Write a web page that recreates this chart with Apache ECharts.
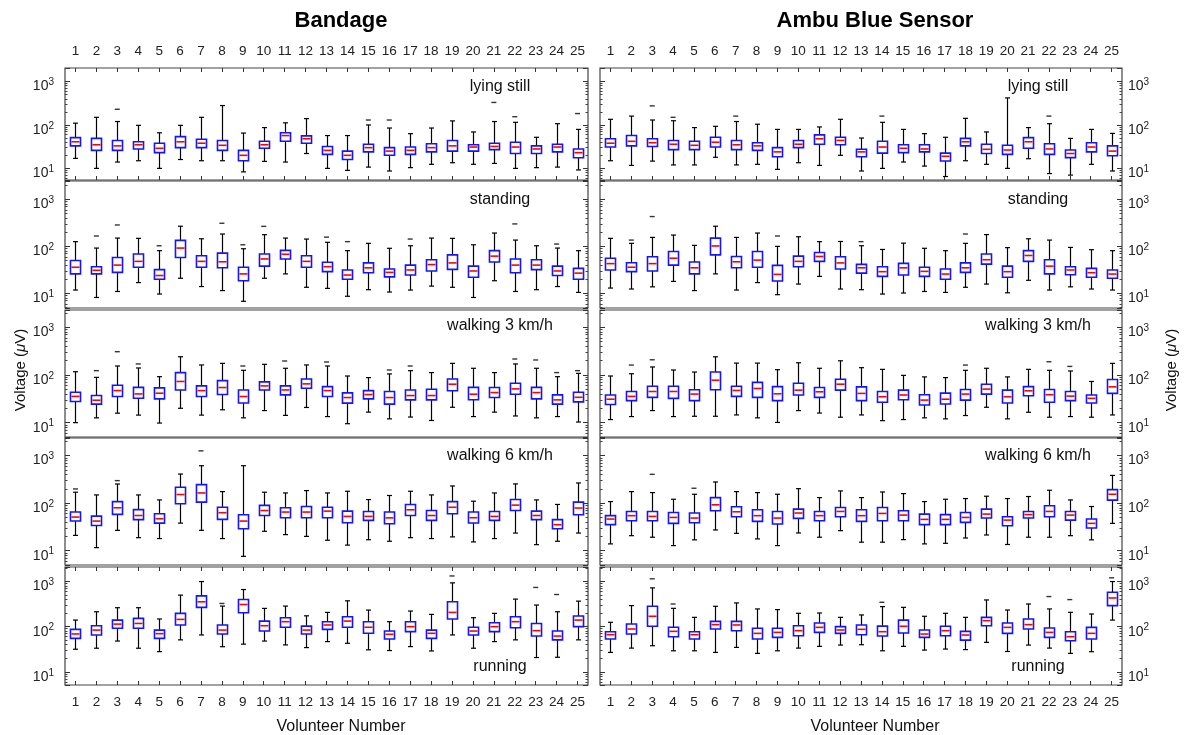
<!DOCTYPE html>
<html lang="en">
<head>
	<meta charset="UTF-8">
	<title>Bandage vs Ambu Blue Sensor</title>
	<script src="https://cdn.jsdelivr.net/npm/echarts@6/dist/echarts.min.js"></script>
	<style>
		html, body { margin: 0; padding: 0; background: #fff; }
	</style>
</head>
<body>
	<div id="chart" style="width: 1184px;height: 735px;"></div>
	<script>
		var volunteers = ['1','2','3','4','5','6','7','8','9','10','11','12','13','14','15','16','17','18','19','20','21','22','23','24','25'];
		var activities = ['lying still', 'standing', 'walking 3 km/h', 'walking 6 km/h', 'running'];
		var sensors = ['Bandage', 'Ambu Blue Sensor'];

		// one row per volunteer: [lower whisker, q1, median, q3, upper whisker] in µV
		var bandageLying = [[17,33,41,51,110],[10,26,35,49,150],[14,26,33,44,120],[15,28,35,41,98],[10,23,29,38,66],
			[16,30,41,54,98],[15,30,38,47,150],[15,26,34,44,280],[8.3,15,20,26,65],[14.5,29,35,42,87],
			[14,42,57,66,112],[22,38,48,56,140],[10,21,26,32,57],[9,16,20,25,57],[10.7,24,30,36,100],
			[8.7,20,25,30,85],[10.4,21,26,31,63],[12.4,24,30,37,85],[13.5,25,33,44,124],[12.4,25,31,35,69],
			[13,27,32,38,120],[10,22,31,40,115],[10.4,22,28,33,52],[10.7,24,31,36,107],[9.2,17.6,23,28,79]];
		var ambuLying = [[15,31,38,48,135],[11.7,33,42,57,160],[14.7,32,39,48,130],[12,27,36,44,125],[12,27,34,42,87],
			[18,31,40,52,93],[12,27,35,44,120],[12.4,26,33,39,104],[9.5,18.5,24,30,79],[13.5,30,36,44,79],
			[11.7,36,48,59,90],[20,35,44,52,135],[8.7,18.5,24,27.5,50],[10,22.5,31,42,115],[14,23,29,35,79],
			[11.3,24,28,35,63],[6.5,14.8,19,22.5,52],[15,33,41,49,142],[12.4,22,27.5,36,69],[10,21,26.5,34,420],
			[16.7,29,41,51,87],[7.6,21,28,37,107],[7,17.7,22,26.5,49],[12.4,24,31,39,79],[8.7,19.6,25,33,64]];
		var bandageStanding = [[11.8,26,36,50,126],[8.2,26,31,37,92],[11,28,40,58,150],[17,36,48,69,148],[9.7,20,24,32,81],
			[21,58,92,134,268],[14,36,48,63,145],[11.5,35,47,72,183],[6.8,18.6,26,36,89],[21,38,54,69,177],
			[26,54,68,82,150],[13.5,36,48,63,143],[12.8,29,37,46,122],[8.7,20,24.6,31.5,81],[12,27.5,35,44.5,116],
			[10.7,22.5,28,33,91],[11.8,24.6,31.5,40,103],[14.3,30,41,52,150],[13.5,32.5,44.5,66,148],[8.2,22,30,38,108],
			[18.6,46.5,62,81,192],[11,27.5,40,54,136],[12,32,40,52,103],[14,24,30,38,92],[10.5,20,27,34,81]];
		var ambuStanding = [[13,31.5,43,56,148],[12.4,29,36,45,116],[13.8,30,43,60,155],[18,40,56,78,174],[11.5,26,35,46.5,105],
			[26,66,102,150,268],[11.8,35,47,61,155],[17,36,51,78,192],[9.4,18.3,25.4,39.5,100],[15.8,37,48,62,160],
			[23,48,61,74,126],[12.4,33,44.5,60,127],[12,27,35,41.5,103],[9.7,23,29,37,86],[10.2,24.6,35,43.5,117],
			[11,23,29.4,36,91],[10.5,20,25.8,33,81],[13.5,28,35,44.5,116],[15.8,42,52,69,178],[10.3,22,29,38,94],
			[19,48,64,81,145],[11.8,26,38,52,136],[13.8,25,31.5,37,95],[12.4,22,27.6,34,85],[11.8,21,25.8,31.5,81]];
		var bandageWalk3 = [[10,27.7,35.5,43.5,117],[12.6,24.4,29.5,37,89],[15.8,35.3,47,61,154],[14.4,32.5,40,55,140],[9.8,31.5,41.4,53.5,92],
			[20,48.5,73,112,241],[14.4,35.3,47,59,162],[18.6,38.8,54.5,76,175],[12.6,25.9,35.3,48.5,125],[17.9,48.5,59,71.5,167],
			[14.2,38.2,48.5,59,138],[20.8,52.6,65,82,162],[13.4,35.3,47,57,154],[9.5,25.6,33.6,42,95],[16.6,31.5,38.8,47,88],
			[12,24.4,33.6,45,105],[13.1,30,37,48.5,123],[11.1,30,37,50,112],[21,46.5,64,82,175],[13.4,30.1,39.5,55,138],
			[16.6,33.6,42.7,54.5,112],[13.8,39.5,51,67,170],[12.6,31.5,42.7,55,138],[13.4,24.4,30,38.2,92],[10.3,27.3,34,43.5,108]];
		var ambuWalk3 = [[11.6,24,31,38,95],[13.4,29,35.5,45,106],[17.9,33.8,45,58,147],[13.4,32.3,45,58,127],[13.6,29,39.7,49,115],
			[13.6,49,77.5,115,240],[14.5,35.5,47.3,58,177],[12.6,33.8,52,70,177],[10.1,29,40.3,57,129],[17.9,38,48,67,180],
			[15.9,33.8,44.3,54.6,138],[13,48,64,81.3,198],[14.5,29,41,56.3,142],[11,26.7,34.9,45,131],[11.6,30.3,38,48,98],
			[12.6,23.5,29.7,38.5,91],[12,24.6,31,41.6,88],[14.1,29.7,39.7,49.7,125],[21,39.7,50.5,64,138],[12,25.8,34.9,48,91],
			[16.5,36.6,46.5,57,131],[13,26.7,38.5,49.7,125],[13.4,29,36,45,121],[13,25.8,32.3,38,73],[14.5,41,56.3,80,175]];
		var bandageWalk6 = [[21,42,51,65,170],[11.6,34,42,53.5,149],[26.8,58,80,108,253],[18.8,45,55,73,149],[18,38,47,60,117],
			[38,97,152,216,410],[26.8,105,164,245,614],[18,45.5,63,82,175],[7.6,29,42,57,614],[25.6,55,70,90,170],
			[21.8,49.4,65,80,164],[20,49.4,65,85,184],[16.6,49.4,68,82,164],[13.1,38.8,52.6,68,178],[17,43.5,52.6,67,119],
			[15.8,37,49,65,145],[18.8,55,72.5,94,178],[18,43.5,55,70,149],[19.5,60,82,108,230],[15.3,38.2,49.4,65,110],
			[18,43.5,52.6,67,164],[23.5,70,91,119,254],[13.4,45,55,68,117],[15.8,29,35.2,45,94],[23.5,57,79,105,266]];
		var ambuWalk6 = [[13.9,35.3,46.3,54.6,108],[20.7,42.7,54.6,67,175],[19.2,42.7,52.6,67,167],[12.8,37.6,50.1,63.6,121],[16.9,38.8,48.6,62,154],
			[27.3,69,92.3,131,279],[23.2,51.8,65.9,84,175],[17.7,41.4,54.6,72.6,167],[12.8,36.4,48.6,67,154],[23.6,47.8,62,75,202],
			[19.2,42.7,54.6,67,131],[26.4,51.8,67,81,181],[15.1,41.4,54.6,72.6,131],[15.1,42.7,60.8,81,172],[17.1,42.7,56.1,69,159],
			[13.9,35.3,45.6,58.9,108],[14.3,35.3,45.6,57.5,121],[18.5,39.5,50.1,63.6,125],[21.4,48.6,58.9,75,140],[13.5,33.6,44,51.8,125],
			[19.2,48.6,57.5,67,138],[19.2,51.8,67,88,187],[20.7,44,56.1,67,117],[16.9,30,37.6,46.3,85],[37.6,116,154,193,384]];
		var bandageRun = [[31.6,55,69,87,140],[33.3,65.5,84,105,214],[48,92,114,140,263],[33.3,92,118,153,263],[28,55,70,84,148],
			[51,109,145,197,500],[65.5,267,356,482,1000],[36,69,84,109,286],[41,204,310,400,665],[48,80,105,133,254],
			[39.4,97,129,158,286],[34.4,69,84,103,174],[46.7,87,109,129,207],[42.8,97,133,166,374],[30.7,71.3,97,129,233],
			[29.6,53.4,67.7,80,129],[36.2,77.5,100,129,222],[29,55,71.3,84,187],[65.5,148,207,356,935],[33.3,65.5,80,97,158],
			[46.7,77.5,100,122,197],[51,95,129,166,408],[20.7,62,81.6,118,301],[21,51,62,80,214],[51,100,140,172,368]];
		var ambuRun = [[26.9,53.2,66.4,77.4,125],[33.5,68.7,88.7,115,293],[37.8,102,170,283,723],[29.2,60,78.8,97,255],[29.2,53.2,66.4,77.4,161],
			[26.9,88.7,111,131,283],[34.7,81.5,109,131,336],[25.6,53.2,71.1,92,247],[29.2,57.9,74.8,92,239],[33.5,63.1,81.5,105,198],
			[36.6,74.8,96.6,121,201],[39.1,71.1,84.3,100,161],[39.8,66.4,87.3,109,182],[29.2,62.1,77.4,103,278],[36.6,72.3,102,140,268],
			[30.3,57.9,68.7,84.3,170],[31.9,63.1,81.5,102,198],[31,50.4,65.3,78.8,161],[44.9,105,136,161,391],[28.2,71.1,96.6,121,234],
			[39.1,88.7,111,148,318],[33.5,57.9,74.8,93.4,247],[25.6,48.8,60,77.4,208],[27.9,53.2,71.1,96.6,191],[140,293,433,578,1000]];

		// outliers: [volunteer, value]
		var bandageLyingOut = [[3,230],[15,130],[16,130],[21,330],[22,155],[25,183]];
		var ambuLyingOut = [[3,275],[4,150],[7,160],[14,160],[22,160]];
		var bandageStandingOut = [[2,166],[3,285],[5,103],[8,310],[9,108],[10,266],[13,157],[14,126],[17,143],[22,300],[24,112]];
		var ambuStandingOut = [[2,136],[3,430],[9,166],[13,126],[18,183]];
		var bandageWalk3Out = [[2,123],[3,307],[4,170],[9,154],[11,196],[13,187],[16,127],[17,154],[22,216],[23,206],[24,112],[25,123]];
		var ambuWalk3Out = [[2,161],[3,208],[18,161],[22,189],[23,151]];
		var bandageWalk6Out = [[1,199],[3,298],[7,1260]];
		var ambuWalk6Out = [[3,404],[5,206]];
		var bandageRunOut = [[8,327],[19,1330],[23,740],[24,516]];
		var ambuRunOut = [[3,1150],[4,318],[14,347],[22,465],[23,398],[25,1210]];

		var panels = [
			[bandageLying, bandageStanding, bandageWalk3, bandageWalk6, bandageRun],
			[ambuLying, ambuStanding, ambuWalk3, ambuWalk6, ambuRun]
		];
		var panelOut = [
			[bandageLyingOut, bandageStandingOut, bandageWalk3Out, bandageWalk6Out, bandageRunOut],
			[ambuLyingOut, ambuStandingOut, ambuWalk3Out, ambuWalk6Out, ambuRunOut]
		];

		// layout
		var rowTop = [68, 181, 310, 438, 567];
		var rowHeight = [112, 127, 127, 127, 118];
		var rowMin = [5.4, 4.9, 5, 5, 5.1];
		var rowMax = [2050, 2450, 2300, 2350, 2100];
		var colLeft = [65, 600];
		var colWidth = [523, 522];
		var colMid = [341, 875];
		var tagX = [500, 1038];
		var tagY = [87, 200, 326, 456, 667];
		var FONT = '"Liberation Sans", Arial, Helvetica, sans-serif';

		function minorTicks(lo, hi) {
			var out = [];
			for (var d = 0; d < 4; d++) {
				for (var k = 2; k <= 9; k++) {
					var v = k * Math.pow(10, d);
					if (v > lo && v < hi) out.push(Math.log10(v));
				}
			}
			return out;
		}

		function powLabel(v) {
			var e = Math.log10(v);
			if (Math.abs(e - Math.round(e)) > 1e-6) return '';
			return '{b|10}{s|' + Math.round(e) + '}';
		}

		function renderBox(params, api) {
			var x = api.value(0);
			var lo = api.coord([x, api.value(1)]);
			var q1 = api.coord([x, api.value(2)]);
			var md = api.coord([x, api.value(3)]);
			var q3 = api.coord([x, api.value(4)]);
			var hi = api.coord([x, api.value(5)]);
			var band = api.coord([1, 10])[0] - api.coord([0, 10])[0];
			var bw = band * 0.48;
			var cw = band * 0.24;
			var cx = Math.round(lo[0]) + 0.5;
			var black = {stroke: '#000', lineWidth: 1.2};
			return {
				type: 'group',
				children: [
					{type: 'line', shape: {x1: cx, y1: hi[1], x2: cx, y2: q3[1]}, style: black},
					{type: 'line', shape: {x1: cx, y1: q1[1], x2: cx, y2: lo[1]}, style: black},
					{type: 'line', shape: {x1: cx - cw / 2, y1: hi[1], x2: cx + cw / 2, y2: hi[1]}, style: black},
					{type: 'line', shape: {x1: cx - cw / 2, y1: lo[1], x2: cx + cw / 2, y2: lo[1]}, style: black},
					{type: 'rect', shape: {x: cx - bw / 2, y: q3[1], width: bw, height: q1[1] - q3[1]},
						style: {fill: '#fff', stroke: '#1414ff', lineWidth: 1.6}},
					{type: 'line', shape: {x1: cx - bw / 2 + 1, y1: md[1], x2: cx + bw / 2 - 1, y2: md[1]},
						style: {stroke: '#ff0000', lineWidth: 1.6}}
				]
			};
		}

		var grids = [], xAxes = [], yAxes = [], series = [], graphics = [];
		var labelRich = {
			b: {fontSize: 14, lineHeight: 16, verticalAlign: 'bottom', fontFamily: FONT, color: '#222'},
			s: {fontSize: 10, lineHeight: 10, verticalAlign: 'top', padding: [0, 0, 10, 0], fontFamily: FONT, color: '#222'}
		};

		for (var c = 0; c < 2; c++) {
			for (var r = 0; r < 5; r++) {
				var g = c * 5 + r;
				var edgeRow = (r === 0 || r === 4);
				grids.push({
					left: colLeft[c], top: rowTop[r], width: colWidth[c], height: rowHeight[r],
					show: true, borderColor: '#444', borderWidth: 1.2, backgroundColor: '#fff',
					outerBoundsMode: 'none'
				});
				// bottom / top category axes
				[['bottom', r === 4], ['top', r === 0]].forEach(function (p) {
					xAxes.push({
						type: 'category', gridIndex: g, position: p[0], data: volunteers, boundaryGap: true,
						axisLine: {show: false},
						axisTick: {show: edgeRow, inside: true, length: 4, alignWithLabel: true, lineStyle: {color: '#333'}},
						axisLabel: {show: p[1], margin: 10, fontSize: 13.5, fontFamily: FONT, color: '#222'},
						splitLine: {show: false}
					});
				});
				// major log axes, left and right
				['left', 'right'].forEach(function (pos, k) {
					yAxes.push({
						type: 'log', logBase: 10, gridIndex: g, position: pos, min: rowMin[r], max: rowMax[r],
						axisLine: {show: false},
						axisTick: {show: true, inside: true, length: 5, lineStyle: {color: '#333'}},
						axisLabel: {show: k === c, margin: k === 0 ? 11 : 6, formatter: powLabel, rich: labelRich, padding: [8, 0, 0, 0]},
						splitLine: {show: false}
					});
				});
				// minor ticks drawn on value axes in log10 space
				['left', 'right'].forEach(function (pos) {
					yAxes.push({
						type: 'value', gridIndex: g, position: pos,
						min: Math.log10(rowMin[r]), max: Math.log10(rowMax[r]),
						axisLine: {show: false},
						axisTick: {show: true, inside: true, length: 2.5, customValues: minorTicks(rowMin[r], rowMax[r]), lineStyle: {color: '#444'}},
						axisLabel: {show: false},
						splitLine: {show: false}
					});
				});

				series.push({
					type: 'custom',
					name: sensors[c] + ' - ' + activities[r],
					xAxisIndex: 2 * g, yAxisIndex: 4 * g,
					renderItem: renderBox,
					encode: {x: 0, y: [1, 2, 3, 4, 5]},
					data: panels[c][r].map(function (b, i) { return [i].concat(b); }),
					silent: true
				});
				series.push({
					type: 'scatter',
					xAxisIndex: 2 * g, yAxisIndex: 4 * g,
					symbol: 'rect', symbolSize: [5, 1.4],
					itemStyle: {color: '#000'},
					data: panelOut[c][r].map(function (o) { return [o[0] - 1, o[1]]; }),
					silent: true
				});

				graphics.push({
					type: 'text', x: tagX[c], y: tagY[r],
					style: {text: activities[r], fontSize: 16, fontFamily: FONT, fill: '#111',
						align: 'center', verticalAlign: 'middle', textAlign: 'center', textVerticalAlign: 'middle'}
				});
			}

			graphics.push({
				type: 'text', x: colMid[c], y: 21,
				style: {text: sensors[c], fontSize: 22, fontWeight: 'bold', fontFamily: FONT, fill: '#000',
					align: 'center', verticalAlign: 'middle', textAlign: 'center', textVerticalAlign: 'middle'}
			});
			graphics.push({
				type: 'text', x: colMid[c], y: 727,
				style: {text: 'Volunteer Number', fontSize: 16, fontFamily: FONT, fill: '#111',
					align: 'center', verticalAlign: 'middle', textAlign: 'center', textVerticalAlign: 'middle'}
			});
		}

		[21, 1172].forEach(function (x) {
			graphics.push({
				type: 'text', x: x, y: 370, rotation: Math.PI / 2,
				style: {text: 'Voltage ({i|μ}V)', fontSize: 15, fontFamily: FONT, fill: '#111',
					rich: {i: {fontStyle: 'italic', fontSize: 15, fontFamily: FONT, fill: '#111'}},
					align: 'center', verticalAlign: 'middle', textAlign: 'center', textVerticalAlign: 'middle'}
			});
		});

		var option = {
			animation: false,
			backgroundColor: '#fff',
			grid: grids,
			xAxis: xAxes,
			yAxis: yAxes,
			series: series,
			graphic: graphics
		};

		var myChart = echarts.init(document.getElementById('chart'));
		myChart.setOption(option);
	</script>
</body>
</html>
